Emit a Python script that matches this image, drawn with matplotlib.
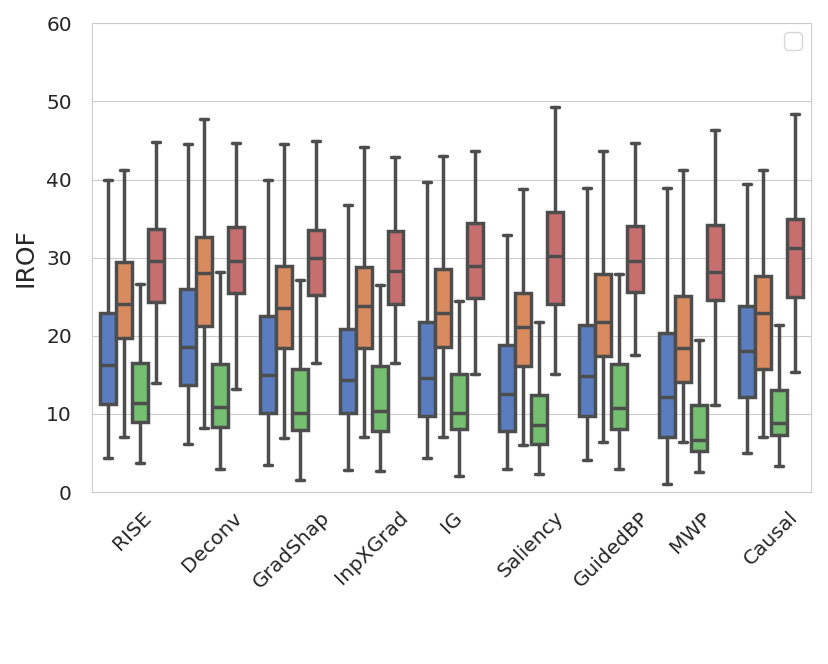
import numpy as np
import matplotlib
matplotlib.use("Agg")
import matplotlib.pyplot as plt
import seaborn as sns

methods = ['RISE', 'Deconv', 'GradShap', 'InpXGrad', 'IG', 'Saliency', 'GuidedBP', 'MWP', 'Causal']

# per hue group: rows = methods, cols = [whislo, q1, med, q3, whishi]
grp0 = [[4.4, 11.3, 16.3, 22.9, 40.0],
        [6.2, 13.7, 18.6, 26.0, 44.5],
        [3.5, 10.1, 15.0, 22.5, 39.9],
        [2.8, 10.1, 14.4, 20.9, 36.8],
        [4.4, 9.7, 14.6, 21.7, 39.7],
        [2.9, 7.8, 12.5, 18.8, 32.9],
        [4.1, 9.7, 14.8, 21.4, 38.9],
        [1.0, 7.0, 12.2, 20.4, 38.9],
        [5.0, 12.2, 18.1, 23.8, 39.4]]
grp1 = [[7.0, 19.7, 24.1, 29.5, 41.2],
        [8.2, 21.3, 28.0, 32.7, 47.7],
        [6.9, 18.4, 23.6, 28.9, 44.6],
        [7.0, 18.4, 23.8, 28.8, 44.2],
        [7.0, 18.6, 22.9, 28.5, 43.0],
        [6.0, 16.1, 21.1, 25.5, 38.8],
        [6.4, 17.4, 21.8, 27.9, 43.6],
        [6.4, 14.1, 18.4, 25.1, 41.2],
        [7.0, 15.8, 22.9, 27.7, 41.2]]
grp2 = [[3.7, 8.9, 11.4, 16.5, 26.6],
        [3.0, 8.3, 10.9, 16.4, 28.1],
        [1.6, 7.9, 10.1, 15.7, 27.2],
        [2.7, 7.8, 10.4, 16.1, 26.5],
        [2.0, 8.1, 10.1, 15.1, 24.4],
        [2.3, 6.1, 8.6, 12.4, 21.8],
        [3.0, 8.1, 10.8, 16.4, 27.9],
        [2.5, 5.2, 6.6, 11.1, 19.5],
        [3.3, 7.3, 8.8, 13.0, 21.4]]
grp3 = [[14.0, 24.3, 29.6, 33.7, 44.8],
        [13.2, 25.5, 29.6, 33.9, 44.7],
        [16.5, 25.2, 30.0, 33.6, 44.9],
        [16.5, 24.1, 28.3, 33.4, 42.9],
        [15.1, 24.8, 28.9, 34.4, 43.6],
        [15.1, 24.1, 30.2, 35.9, 49.3],
        [17.5, 25.6, 29.6, 34.0, 44.7],
        [11.1, 24.6, 28.1, 34.2, 46.3],
        [15.4, 24.9, 31.2, 35.0, 48.4]]
groups = [grp0, grp1, grp2, grp3]

sns.set_style("whitegrid")
pal = [sns.desaturate(c, 0.75) for c in sns.color_palette("muted", 4)]
line_col = "#4d4d4d"

fig = plt.figure(figsize=(8.29, 6.64), dpi=100)
ax = fig.add_axes([0.111, 0.259, 0.867, 0.706])

w = 0.2
for j, g in enumerate(groups):
    stats = []
    for row in g:
        stats.append(dict(whislo=row[0], q1=row[1], med=row[2], q3=row[3], whishi=row[4], fliers=[]))
    pos = np.arange(len(methods)) + (j - 1.5) * w
    ax.bxp(stats, positions=pos, widths=w, patch_artist=True, showfliers=False,
           manage_ticks=False,
           boxprops=dict(facecolor=pal[j], edgecolor=line_col, linewidth=2.5),
           medianprops=dict(color=line_col, linewidth=2.5),
           whiskerprops=dict(color=line_col, linewidth=2.5),
           capprops=dict(color=line_col, linewidth=2.5))

ax.set_xlim(-0.5, len(methods) - 0.5)
ax.set_ylim(0, 60)
ax.set_xticks(np.arange(len(methods)))
ax.set_xticklabels(methods, rotation=45, fontsize=14.5)
ax.tick_params(axis='y', labelsize=14.5, pad=11)
ax.tick_params(axis='x', pad=8)
ax.xaxis.grid(False)
ax.set_ylabel('IROF', fontsize=18, labelpad=6)
ax.legend(handles=[], loc='upper right', fontsize=16, borderaxespad=0.4)

fig.savefig("out.png", dpi=100)
